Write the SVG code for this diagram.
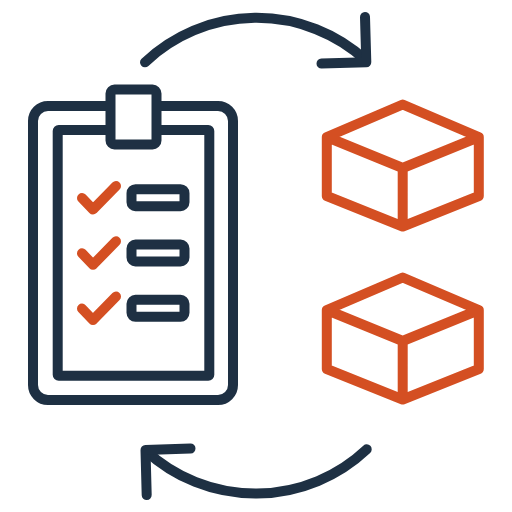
<svg xmlns="http://www.w3.org/2000/svg" width="512" height="512" viewBox="0 0 512 512">
<style>
.d{fill:none;stroke:#1e3043;stroke-width:10;stroke-linecap:round;stroke-linejoin:round}
.o{fill:none;stroke:#d44f22;stroke-width:10;stroke-linecap:round;stroke-linejoin:round}
.f{fill:#fff}
</style>
<defs>
<g id="box">
<path class="o" d="M402.7 104.5L478.8 137V196L402.7 226.5L326.8 196V137ZM326.8 137L402.7 168L478.8 137M402.7 168V226.5"/>
</g>
<path id="check" class="o" d="M82 198L93 209.5L116 186"/>
<rect id="pill" class="d" x="131.5" y="189.2" width="53" height="17" rx="4"/>
</defs>
<g id="clipboard">
<rect class="d" x="33" y="106" width="200" height="294" rx="15"/>
<rect class="d" x="57.7" y="130" width="151.6" height="245.7" rx="1"/>
<rect class="d f" x="110.5" y="89.5" width="46" height="55" rx="4"/>
</g>
<g id="checklist">
<use href="#check"/><use href="#pill"/>
<use href="#check" y="55.3"/><use href="#pill" y="55.3"/>
<use href="#check" y="110.6"/><use href="#pill" y="110.6"/>
</g>
<g id="box-top"><use href="#box"/></g>
<g id="box-bottom"><use href="#box" y="173"/></g>
<g id="connectors">
<path class="d" d="M145 62.3A162 162 0 0 1 365.5 60"/>
<path class="d" d="M365 17L366.3 62.2L321.5 63.5"/>
<path class="d" d="M366.7 449.3A162 162 0 0 1 146 451"/>
<path class="d" d="M146.7 495L145.5 450L190.5 448.5"/>
</g>
</svg>
